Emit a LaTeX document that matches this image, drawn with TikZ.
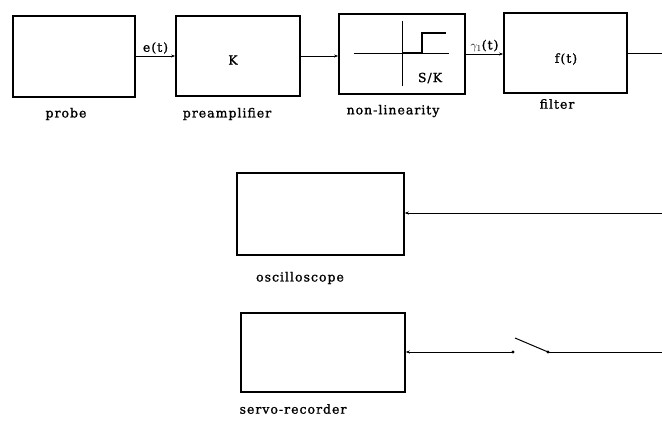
\documentclass[tikz,border=0pt]{standalone}
\usepackage{fontspec}
\setmainfont{DejaVu Serif}[LetterSpace=8,FakeBold=1.2]
\usetikzlibrary{arrows.meta}
\begin{document}
\begin{tikzpicture}[x=1pt,y=-1pt,
  lbl/.style={font=\fontsize{12.5}{14}\selectfont},
  wire/.style={line width=0.6pt},
  arr/.style={wire,-{Stealth[length=4pt,width=3pt]}}]
\useasboundingbox (0,0) rectangle (662,422);
% top row boxes
\node[draw,line width=1.8pt,minimum width=122pt,minimum height=81pt,inner sep=0pt] (probe) at (74,56.5) {};
\node[draw,line width=1.8pt,minimum width=124pt,minimum height=80pt,inner sep=0pt] (pre) at (238,56) {};
\node[draw,line width=1.8pt,minimum width=126pt,minimum height=80pt,inner sep=0pt] (nl) at (402,54) {};
\node[draw,line width=1.8pt,minimum width=123pt,minimum height=80pt,inner sep=0pt] (filt) at (565.5,53) {};
% inner texts
\node[lbl] (K) at (233,60) {K};
\node[lbl] (ft) at (566,59) {f(t)};
\node[lbl] (SK) at (430,78) {S/K};
% nonlinearity graph
\coordinate (hl) at (354,53);
\coordinate (hr) at (449,53);
\coordinate (vt) at (402,21);
\coordinate (vb) at (402,86);
\draw[wire] (hl) -- (hr);
\draw[wire] (vt) -- (vb);
\draw[line width=1.4pt] (402,53) -- (422,53) -- (422,33) -- (446,33);
% labels under boxes
\node[lbl] (lprobe) at (66,114) {probe};
\node[lbl] (lpre) at (227,114) {preamplifier};
\node[lbl] (lnl) at (393,111) {non-linearity};
\node[lbl] (lfilt) at (557,104) {filter};
% connectors top row
\draw[arr] (probe.east |- 0,56) -- (pre.west |- 0,56) node[midway,above,lbl,inner sep=2pt] (et) {e(t)};
\draw[arr] (pre.east |- 0,56) -- (nl.west |- 0,56);
\draw[arr] (nl.east |- 0,54) -- (filt.west |- 0,54) node[midway,above,lbl,inner sep=2pt] (y1) {$\gamma_1$(t)};
\coordinate (outR) at (662,53);
\draw[wire] (filt.east |- 0,53) -- (outR);
% lower boxes
\node[draw,line width=1.5pt,minimum width=167pt,minimum height=82pt,inner sep=0pt] (osc) at (320.5,214) {};
\node[lbl] (losc) at (300,278) {oscilloscope};
\coordinate (oscR) at (662,213);
\draw[arr] (oscR) -- (osc.east |- 0,213);
\node[draw,line width=1.5pt,minimum width=164pt,minimum height=79pt,inner sep=0pt] (servo) at (323,352.5) {};
\node[lbl] (lservo) at (293,409) {servo-recorder};
% switch
\coordinate (sw1) at (513,352);
\coordinate (sw2) at (548,352);
\coordinate (swt) at (515,338);
\coordinate (servoR) at (662,352);
\fill (sw1) circle (1.6pt);
\fill (sw2) circle (1.6pt);
\draw[line width=1pt] (swt) -- (sw2);
\draw[wire] (servoR) -- (sw2);
\draw[arr] (sw1) -- (servo.east |- 0,352);
\end{tikzpicture}
\end{document}
